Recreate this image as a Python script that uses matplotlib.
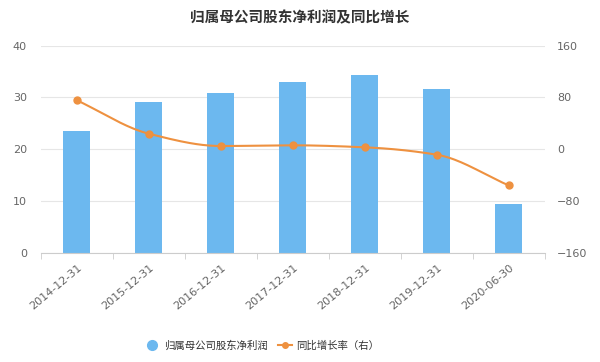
import numpy as np
import matplotlib.pyplot as plt
from matplotlib.lines import Line2D

plt.rcParams['font.family'] = ['Noto Sans CJK SC', 'DejaVu Sans']

dates = ['2014-12-31', '2015-12-31', '2016-12-31', '2017-12-31',
         '2018-12-31', '2019-12-31', '2020-06-30']
profit = [23.6, 29.2, 30.9, 33.0, 34.3, 31.7, 9.4]
growth = [75.7, 24.1, 5.1, 6.2, 3.1, -8.3, -55.7]

blue = '#6cb8ef'
orange = '#ee9140'
grid_c = '#e6e6e6'
txt_c = '#666666'


def smooth(x, y, n=200):
    # monotone cubic hermite, only for drawing the curve
    x = np.asarray(x, float)
    y = np.asarray(y, float)
    h = np.diff(x)
    d = np.diff(y) / h
    m = np.zeros_like(y)
    m[0], m[-1] = d[0], d[-1]
    for i in range(1, len(y) - 1):
        if d[i - 1] * d[i] > 0:
            m[i] = 2 / (1 / d[i - 1] + 1 / d[i])
    xs = np.linspace(x[0], x[-1], n)
    ys = np.empty_like(xs)
    for k, xv in enumerate(xs):
        i = min(np.searchsorted(x, xv, side='right') - 1, len(x) - 2)
        t = (xv - x[i]) / h[i]
        h00 = 2 * t**3 - 3 * t**2 + 1
        h10 = t**3 - 2 * t**2 + t
        h01 = -2 * t**3 + 3 * t**2
        h11 = t**3 - t**2
        ys[k] = h00 * y[i] + h10 * h[i] * m[i] + h01 * y[i + 1] + h11 * h[i] * m[i + 1]
    return xs, ys


fig = plt.figure(figsize=(6, 3.62), dpi=100)
ax = fig.add_axes([0.068, 0.301, 0.84, 0.573])
ax2 = ax.twinx()

x = np.arange(len(dates))
ax.bar(x, profit, width=0.37, color=blue, zorder=2)
ax.set_xlim(-0.5, len(dates) - 0.5)
ax.set_ylim(0, 40)
ax.set_yticks([0, 10, 20, 30, 40])
ax.yaxis.grid(True, color=grid_c, linewidth=0.8)
ax.set_axisbelow(True)

xs, ys = smooth(x, growth)
ax2.plot(xs, ys, color=orange, linewidth=1.5, zorder=3)
ax2.plot(x, growth, 'o', color=orange, markersize=5, zorder=4)
ax2.set_ylim(-160, 160)
ax2.set_yticks([-160, -80, 0, 80, 160])

for a in (ax, ax2):
    for s in ('top', 'left', 'right'):
        a.spines[s].set_visible(False)
    a.spines['bottom'].set_color('#cccccc')
    a.tick_params(axis='y', length=0, labelsize=8, colors=txt_c)
ax.tick_params(axis='y', pad=10)
ax2.tick_params(axis='y', pad=9)

ax.set_xticks(x)
ax.set_xticklabels(dates, rotation=40, ha='right', rotation_mode='anchor',
                   fontsize=8, color=txt_c, family='DejaVu Sans')
ax.tick_params(axis='x', length=0, pad=7)
ax.set_xticks(np.arange(-0.5, len(dates), 1), minor=True)
ax.tick_params(axis='x', which='minor', length=4, color='#cccccc')
ax2.spines['bottom'].set_visible(False)
for lab in ax.get_yticklabels() + ax2.get_yticklabels():
    lab.set_family('DejaVu Sans')

fig.text(0.5, 0.953, '归属母公司股东净利润及同比增长', ha='center', va='center',
         fontsize=10.5, fontweight='bold', color='#333333')

handles = [
    Line2D([], [], marker='o', linestyle='none', color=blue, markersize=7),
    Line2D([], [], marker='o', color=orange, markersize=4, linewidth=1.5),
]
fig.legend(handles, ['归属母公司股东净利润', '同比增长率（右）'], loc='center',
           bbox_to_anchor=(0.437, 0.045), ncol=2, frameon=False, fontsize=7.5,
           handlelength=1.4, columnspacing=1.0, handletextpad=0.4,
           labelcolor='#333333')

fig.savefig('out.png', dpi=100)
